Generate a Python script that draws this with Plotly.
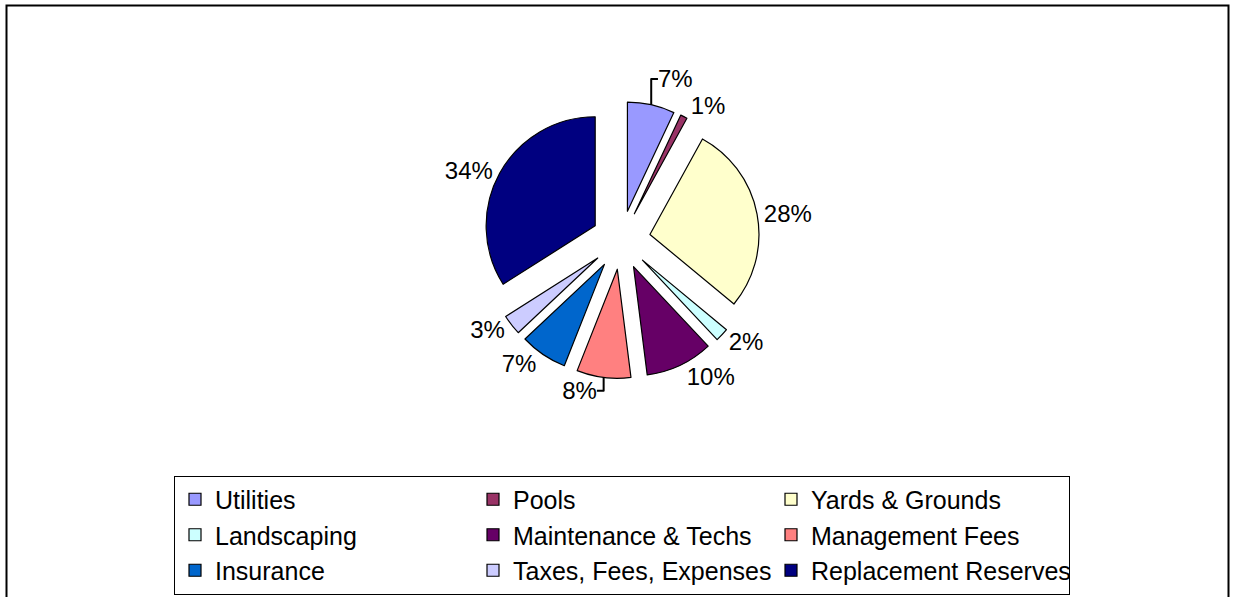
import plotly.graph_objects as go

categories = ["Utilities", "Pools", "Yards & Grounds", "Landscaping",
              "Maintenance & Techs", "Management Fees", "Insurance",
              "Taxes, Fees, Expenses", "Replacement Reserves"]
values = [7, 1, 28, 2, 10, 8, 7, 3, 34]
colors = ["#9999FF", "#993366", "#FFFFCC", "#CCFFFF", "#660066",
          "#FF8080", "#0066CC", "#CCCCFF", "#000080"]

W, H = 1233, 597
ML, MR, MT, MB = 170, 160, 0, 0
PW = W - ML - MR
PH = H - MT - MB
FONT = "Liberation Sans, Arial, sans-serif"

def px_x(x):
    return (x - ML) / PW

def px_y(y):
    return 1 - (y - MT) / PH

fig = go.Figure(go.Pie(
    labels=categories,
    values=values,
    sort=False,
    direction="clockwise",
    rotation=0,
    pull=[0.27] * len(values),
    marker=dict(colors=colors, line=dict(color="black", width=1.2)),
    textinfo="percent",
    texttemplate="%{percent:.0%}",
    textposition="outside",
    outsidetextfont=dict(family=FONT, size=24, color="black"),
    domain=dict(x=[px_x(482.5), px_x(759.5)], y=[px_y(378.5), px_y(101.5)]),
    hoverinfo="label+percent",
))

fig.update_layout(
    width=W, height=H,
    margin=dict(l=ML, r=MR, t=MT, b=MB),
    paper_bgcolor="white",
    plot_bgcolor="white",
    font=dict(family=FONT, size=24, color="black"),
    showlegend=True,
    legend=dict(
        orientation="h",
        x=px_x(174), xanchor="left",
        y=px_y(475.5), yanchor="top",
        entrywidth=253, entrywidthmode="pixels",
        bordercolor="black", borderwidth=1,
        bgcolor="white",
        font=dict(family=FONT, size=25, color="black"),
        traceorder="normal",
    ),
    shapes=[dict(type="rect", xref="paper", yref="paper",
                 x0=px_x(6.5), x1=px_x(1228.5), y0=px_y(605), y1=px_y(5.5),
                 line=dict(color="black", width=2), fillcolor="rgba(0,0,0,0)",
                 layer="above")],
)

fig.write_html("out.html", config={"displayModeBar": False},
               post_script="document.body.style.margin='0px';")
